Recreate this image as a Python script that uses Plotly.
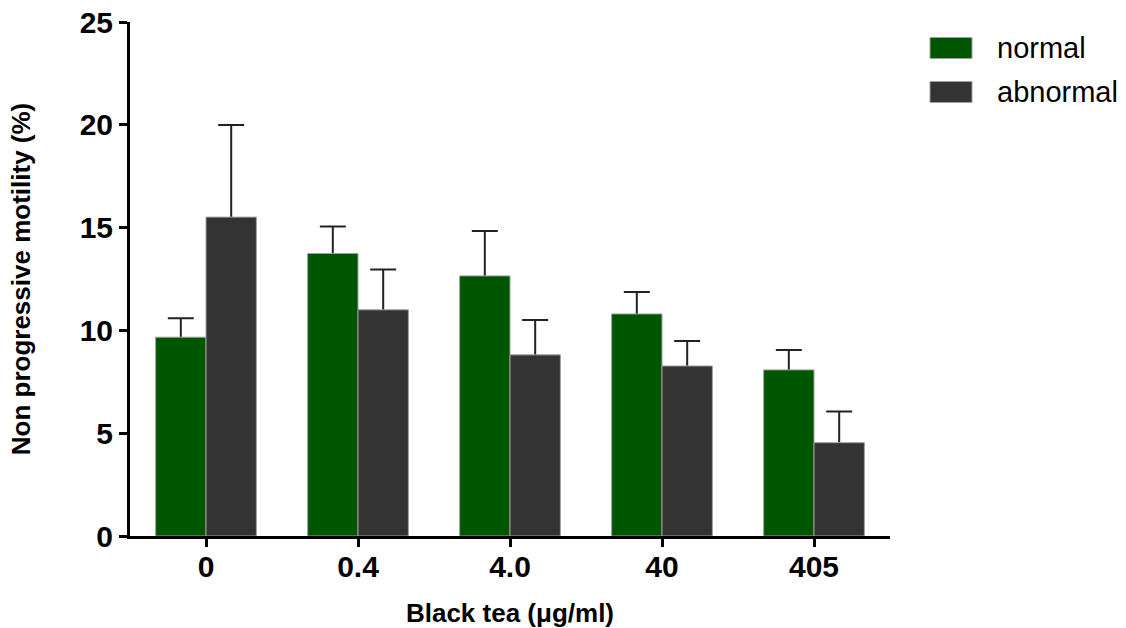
import plotly.graph_objects as go

categories = ["0", "0.4", "4.0", "40", "405"]
normal_mean = [9.67, 13.74, 12.65, 10.80, 8.08]
normal_err = [0.92, 1.31, 2.19, 1.07, 0.97]
abnormal_mean = [15.51, 11.00, 8.81, 8.27, 4.54]
abnormal_err = [4.48, 1.96, 1.70, 1.22, 1.51]
series_names = ["normal", "abnormal"]
series_colors = ["#005500", "#333333"]

FONT = "Arial, Liberation Sans, sans-serif"
W, H = 1126, 628
ML, MR, MT, MB = 130, 236, 22, 92

fig = go.Figure()
for name, vals, errs, col in [
    (series_names[0], normal_mean, normal_err, series_colors[0]),
    (series_names[1], abnormal_mean, abnormal_err, series_colors[1]),
]:
    # error bars drawn first (symmetric), then the bar on top hides the lower half
    fig.add_trace(go.Bar(
        x=categories, y=vals, name=name + " sem", offsetgroup=name,
        marker=dict(color="rgba(0,0,0,0)", line=dict(width=0)),
        error_y=dict(type="data", array=errs, symmetric=True,
                     color="#222222", thickness=2, width=13),
        showlegend=False, hoverinfo="skip",
    ))
    fig.add_trace(go.Bar(
        x=categories, y=vals, name=name, offsetgroup=name,
        marker=dict(color=col, line=dict(color="#a0a0a0", width=1)),
        showlegend=False,
    ))

fig.update_layout(
    width=W, height=H,
    margin=dict(l=ML, r=MR, t=MT, b=MB, autoexpand=False),
    paper_bgcolor="white", plot_bgcolor="white",
    barmode="group", bargap=0.337, bargroupgap=0,
    font=dict(family=FONT, color="black"),
)
fig.update_xaxes(
    type="category", range=[-0.5, 4.5], automargin=False,
    showline=True, linecolor="black", linewidth=3,
    ticks="outside", ticklen=8, tickwidth=3, tickcolor="black",
    ticklabelstandoff=-6,
    tickfont=dict(family=FONT, size=30, color="black", weight="bold"),
    showgrid=False, zeroline=False,
    title=dict(text="Black tea (μg/ml)", font=dict(family=FONT, size=26, color="black", weight="bold"), standoff=24),
)
fig.update_yaxes(
    range=[0, 25], tickvals=[0, 5, 10, 15, 20, 25], automargin=False,
    showline=True, linecolor="black", linewidth=3,
    ticks="outside", ticklen=8, tickwidth=3, tickcolor="black",
    tickfont=dict(family=FONT, size=30, color="black", weight="bold"),
    showgrid=False, zeroline=False,
    title=dict(text="Non progressive motility (%)", font=dict(family=FONT, size=26, color="black", weight="bold"), standoff=42),
)

pw = W - ML - MR
ph = H - MT - MB
def px_x(p):
    return (p - ML) / pw
def px_y(p):
    return (H - MB - p) / ph

legend_rows = [(37.5, 58.5), (81.5, 102.5)]
for (y0, y1), name, col in zip(legend_rows, series_names, series_colors):
    fig.add_shape(type="rect", xref="paper", yref="paper",
                  x0=px_x(930), x1=px_x(972), y0=px_y(y1), y1=px_y(y0),
                  fillcolor=col, line=dict(color="#a0a0a0", width=1))
    fig.add_annotation(xref="paper", yref="paper", x=px_x(995), y=px_y((y0 + y1) / 2),
                       text=name, showarrow=False, xanchor="left", yanchor="middle",
                       font=dict(family=FONT, size=29, color="black"))

fig.write_html("out.html")
